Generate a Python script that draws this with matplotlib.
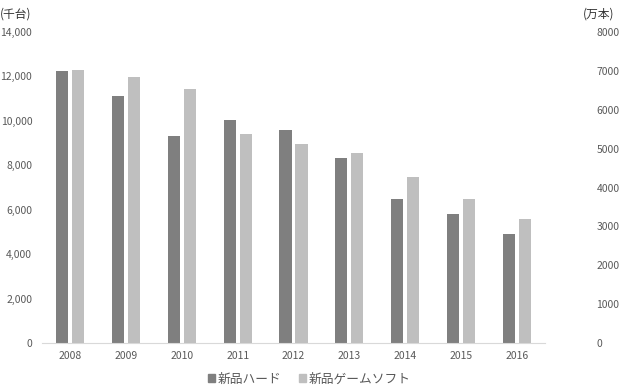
import numpy as np
import matplotlib
matplotlib.use("Agg")
import matplotlib.pyplot as plt
from matplotlib.patches import Patch

plt.rcParams['font.family'] = ['Noto Sans CJK JP', 'DejaVu Sans']

years = ['2008', '2009', '2010', '2011', '2012', '2013', '2014', '2015', '2016']
hard = [12240, 11120, 9320, 10050, 9590, 8330, 6500, 5800, 4910]   # 千台
soft = [7010, 6840, 6530, 5380, 5110, 4890, 4270, 3700, 3190]      # 万本

hard_color = '#7f7f7f'
soft_color = '#bfbfbf'
text_color = '#595959'

fig = plt.figure(figsize=(6.21, 3.89), dpi=100)
ax = fig.add_axes([42 / 621, 1 - 343 / 389, 503 / 621, 311 / 389])
ax2 = ax.twinx()

x = np.arange(len(years))
w = 0.215
ax.bar(x - 0.143, hard, width=w, color=hard_color)
ax2.bar(x + 0.143, soft, width=w, color=soft_color)

ax.set_xlim(-0.5, len(years) - 0.5)
ax.set_ylim(0, 14000)
ax2.set_ylim(0, 8000)
ax.set_yticks(range(0, 14001, 2000))
ax.set_yticklabels([f'{v:,}' for v in range(0, 14001, 2000)])
ax2.set_yticks(range(0, 8001, 1000))
ax.set_xticks(x)
ax.set_xticklabels(years)

for a in (ax, ax2):
    for s in a.spines.values():
        s.set_visible(False)
    a.tick_params(length=0, labelsize=7.5, colors=text_color)
ax.spines['bottom'].set_visible(True)
ax.spines['bottom'].set_color('#d9d9d9')
ax.tick_params(axis='y', pad=7)
ax.tick_params(axis='x', pad=6)
ax2.tick_params(axis='y', pad=37)

fig.text(0.0, 1 - 14 / 389, '(千台)', fontsize=8.5, color='#333333', va='center', ha='left')
fig.text(614 / 621, 1 - 14 / 389, '(万本)', fontsize=8.5, color='#333333', va='center', ha='right')

handles = [Patch(color=hard_color, label='新品ハード'),
           Patch(color=soft_color, label='新品ゲームソフト')]
fig.legend(handles=handles, loc='center', bbox_to_anchor=(0.4976, 1 - 379 / 389),
           ncol=2, frameon=False, fontsize=9.2, handlelength=0.55, handleheight=0.55,
           handletextpad=0.2, columnspacing=1.4, labelcolor=text_color)

fig.savefig('out.png', dpi=100)
